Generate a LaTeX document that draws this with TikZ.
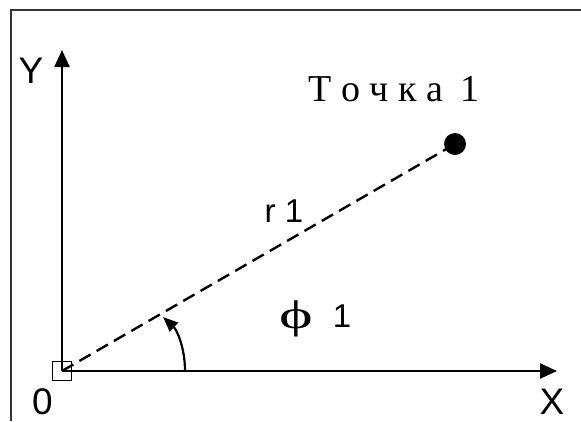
\documentclass[tikz,border=0pt]{standalone}
\usepackage{fontspec}
\setmainfont{Liberation Sans}
\newfontfamily\serifru{Liberation Serif}
\usetikzlibrary{arrows.meta}
\begin{document}
\begin{tikzpicture}[x=1pt,y=-1pt,
  axis/.style={line width=2.4pt,-{Triangle[length=17pt,width=15pt]}},
  axlbl/.style={font=\fontsize{37}{37}\selectfont,inner sep=0pt},
  lbl/.style={font=\fontsize{33}{33}\selectfont,inner sep=0pt},
  frameline/.style={line width=2pt,draw=black!80},
  radius line/.style={line width=2.4pt,dash pattern=on 13pt off 7pt},
  anglearrow/.style={line width=2.2pt,-{Triangle[length=15pt,width=12pt]}}]
\useasboundingbox (0,0) rectangle (581,421);
\draw[frameline] (11,421) -- (11,10) -- (581,10);
\coordinate (O) at (62,371);
\coordinate (Yt) at (62,50);
\coordinate (Xt) at (557,371);
\draw[axis] (O) -- (Yt);
\draw[axis] (O) -- (Xt);
\node[draw,line width=1.5pt,minimum size=19pt,inner sep=0pt] (sq) at (O) {};
\node[circle,fill,minimum size=22pt,inner sep=0pt] (P) at (455,144) {};
\draw[radius line] (O) -- (P.center);
\coordinate (A0) at (185,371);
\coordinate (A1) at (163,317);
\draw[anglearrow] (A0) .. controls (185,348) and (177,330) .. (A1);
\node[axlbl] (ylbl) at (31,71) {Y};
\node[axlbl] (xlbl) at (552,402) {X};
\node[axlbl] (olbl) at (42.5,401.5) {0};
\node[font=\serifru\fontsize{38}{38}\selectfont,inner sep=0pt] (tlbl) at (394,89.5) {Т о ч к а\hspace{0.45em}1};
\node[lbl] (rlbl) at (284,211) {r 1};
\node[font=\serifru\fontsize{40}{40}\selectfont,inner sep=0pt,anchor=base] (phi) at (296,328) {\scalebox{1.6}[1]{ϕ}};
\node[lbl,anchor=base] (phi1) at (342,327) {1};
\end{tikzpicture}
\end{document}
